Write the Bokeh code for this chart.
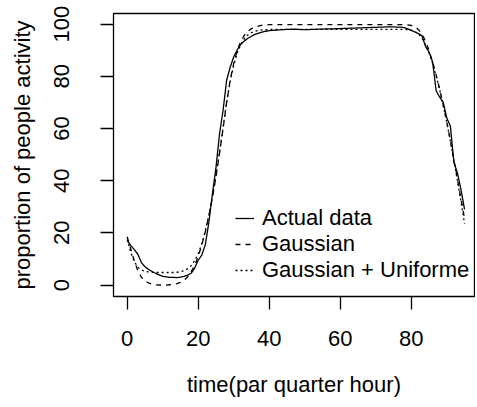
from bokeh.plotting import figure
from bokeh.models import Range1d, FixedTicker, Legend, LegendItem
from bokeh.embed import file_html
from bokeh.resources import INLINE

time = list(range(96))

actual = [17.0, 15.2, 13.6, 11.8, 8.6, 7.0, 6.0, 5.2, 4.5, 3.9,
          3.3, 3.1, 2.9, 2.9, 2.8, 3.0, 3.3, 3.8, 4.5, 6.5,
          9.5, 11.5, 15.5, 24.0, 35.0, 45.0, 58.0, 67.0, 78.5, 83.5,
          87.5, 90.2, 92.3, 93.6, 94.6, 95.4, 96.1, 96.6, 97.0, 97.3,
          97.5, 97.6, 97.7, 97.8, 97.9, 98.0, 98.0, 98.1, 98.0, 97.9,
          97.9, 97.9, 98.0, 98.0, 98.1, 98.1, 98.2, 98.2, 98.2, 98.3,
          98.3, 98.4, 98.4, 98.5, 98.5, 98.6, 98.6, 98.7, 98.7, 98.8,
          98.8, 98.9, 98.9, 99.0, 99.0, 99.0, 98.9, 98.9, 98.7, 98.2,
          97.6, 97.0, 96.4, 95.6, 91.5, 89.3, 85.5, 74.5, 72.0, 70.0,
          64.0, 61.0, 47.0, 43.0, 36.5, 29.0]

gaussian = [18.5, 13.8, 9.3, 5.5, 3.0, 1.6, 0.8, 0.3, 0.1, 0.0,
            0.0, 0.0, 0.1, 0.2, 0.5, 1.0, 1.8, 3.1, 5.0, 7.6,
            11.0, 15.3, 20.5, 26.5, 33.5, 41.5, 50.5, 60.0, 70.0, 78.5,
            85.0, 90.0, 93.5, 95.8, 97.3, 98.3, 98.9, 99.3, 99.6, 99.7,
            99.8, 99.8, 99.8, 99.8, 99.8, 99.8, 99.8, 99.8, 99.8, 99.8,
            99.8, 99.8, 99.8, 99.8, 99.8, 99.8, 99.8, 99.8, 99.8, 99.8,
            99.8, 99.8, 99.8, 99.8, 99.8, 99.8, 99.8, 99.8, 99.8, 99.8,
            99.8, 99.8, 99.8, 99.8, 99.8, 99.8, 99.8, 99.8, 99.8, 99.7,
            99.5, 99.0, 98.0, 96.3, 93.5, 90.0, 85.5, 80.5, 75.0, 69.0,
            62.5, 55.5, 48.0, 40.5, 33.0, 25.5]

gauss_unif = [17.5, 12.5, 9.0, 6.8, 5.8, 5.3, 5.0, 4.9, 4.8, 4.8,
              4.8, 4.8, 4.8, 4.8, 4.9, 5.1, 5.5, 6.2, 7.4, 9.3,
              12.0, 15.8, 20.8, 26.8, 34.0, 42.0, 51.0, 60.5, 70.0, 78.0,
              84.3, 89.0, 92.3, 94.5, 95.9, 96.8, 97.3, 97.6, 97.8, 97.9,
              98.0, 98.0, 98.0, 98.0, 98.0, 98.0, 98.0, 98.0, 98.0, 98.0,
              98.0, 98.0, 98.0, 98.0, 98.0, 98.0, 98.0, 98.0, 98.0, 98.0,
              98.0, 98.0, 98.0, 98.0, 98.0, 98.0, 98.0, 98.0, 98.0, 98.0,
              98.0, 98.0, 98.0, 98.0, 98.0, 98.0, 98.0, 98.0, 98.0, 97.9,
              97.7, 97.2, 96.3, 94.7, 92.2, 89.0, 85.0, 80.2, 74.8, 68.8,
              62.3, 55.3, 47.8, 40.0, 32.0, 23.5]

x_ticks = [0, 20, 40, 60, 80]
y_ticks = [0, 20, 40, 60, 80, 100]
legend_labels = ["Actual data", "Gaussian", "Gaussian + Uniforme"]

FONT = "Liberation Sans"
FS = "22px"

p = figure(width=475, height=399, output_backend="svg", toolbar_location=None,
           x_range=Range1d(-3.86, 97.8), y_range=Range1d(-4.4, 104.1),
           min_border_left=113, min_border_right=1, min_border_top=13,
           min_border_bottom=101)

p.background_fill_color = "white"
p.border_fill_color = "white"
p.outline_line_color = "black"
p.outline_line_width = 1.3
p.outline_line_alpha = 1.0
p.grid.grid_line_color = None

p.xaxis.ticker = FixedTicker(ticks=x_ticks)
p.yaxis.ticker = FixedTicker(ticks=y_ticks)

for ax in (p.xaxis[0], p.yaxis[0]):
    ax.axis_line_color = None
    ax.major_tick_line_color = "black"
    ax.major_tick_line_width = 1.3
    ax.major_tick_out = 13
    ax.major_tick_in = 0
    ax.minor_tick_line_color = None
    ax.major_label_text_font = FONT
    ax.major_label_text_font_size = FS
    ax.major_label_text_color = "black"
    ax.axis_label_text_font = FONT
    ax.axis_label_text_font_size = FS
    ax.axis_label_text_font_style = "normal"
    ax.axis_label_text_color = "black"

p.xaxis.axis_label = "time(par quarter hour)"
p.yaxis.axis_label = "proportion of people activity"
p.xaxis.major_label_standoff = 21
p.xaxis.axis_label_standoff = 23
p.yaxis.major_label_orientation = "vertical"
p.yaxis.major_label_standoff = 31
p.yaxis.axis_label_standoff = 17

r1 = p.line(time, actual, line_color="black", line_width=1.3)
r2 = p.line(time, gaussian, line_color="black", line_width=1.3, line_dash="5 5")
r3 = p.line(time, gauss_unif, line_color="black", line_width=1.3, line_dash="2 3")

legend = Legend(items=[LegendItem(label=legend_labels[0], renderers=[r1]),
                       LegendItem(label=legend_labels[1], renderers=[r2]),
                       LegendItem(label=legend_labels[2], renderers=[r3])],
                location=(122, 13), border_line_color=None,
                background_fill_alpha=0, padding=0, margin=0, spacing=0,
                glyph_width=19, glyph_height=26, label_height=26,
                label_standoff=8, label_text_font=FONT,
                label_text_font_size=FS, label_text_color="black")
p.add_layout(legend, "center")

open("out.html", "w").write(file_html(p, INLINE))
